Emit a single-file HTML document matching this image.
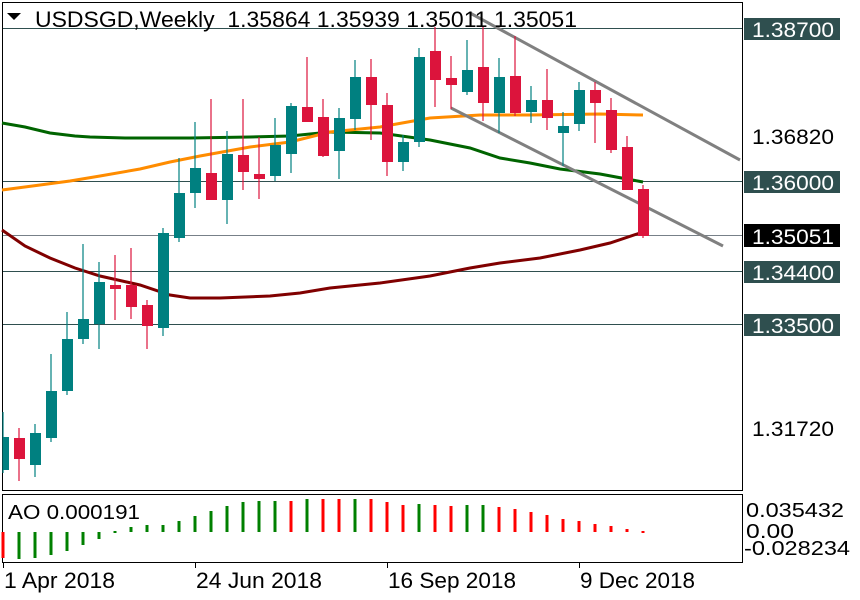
<!DOCTYPE html>
<html><head><meta charset="utf-8"><style>
html,body{margin:0;padding:0;background:#fff;}
svg{display:block;font-family:"Liberation Sans",sans-serif;}
</style></head><body>
<svg width="860" height="600" viewBox="0 0 860 600" xmlns="http://www.w3.org/2000/svg">
<rect width="860" height="600" fill="#fff"/>
<rect x="2.5" y="2.5" width="740" height="488" fill="none" stroke="#000" stroke-width="1"/>
<rect x="2.5" y="494.5" width="740" height="68" fill="none" stroke="#000" stroke-width="1"/>
<g stroke-width="1">
<line x1="3" y1="28.5" x2="742" y2="28.5" stroke="#2f4f4f"/>
<line x1="3" y1="181.5" x2="742" y2="181.5" stroke="#2f4f4f"/>
<line x1="3" y1="235.5" x2="742" y2="235.5" stroke="#778088"/>
<line x1="3" y1="271.5" x2="742" y2="271.5" stroke="#2f4f4f"/>
<line x1="3" y1="324.5" x2="742" y2="324.5" stroke="#2f4f4f"/>
</g>
<polyline fill="none" stroke="#006400" stroke-width="3" points="2,123 25,127 50,133 75,136 90,137 125,138 190,138 250,137 290,136 330,132 380,133 430,140 470,148 500,158 530,163 560,169 600,174 643,182"/>
<polyline fill="none" stroke="#ff8c00" stroke-width="3" points="2,190 40,185 70,181 100,176 140,169 170,162 200,156 250,147 290,142 330,132 380,127 430,118 480,115 530,115 600,114 643,115"/>
<polyline fill="none" stroke="#800000" stroke-width="3" points="2,230 25,246 50,258 75,268 100,276 140,285 170,295 190,298 220,298 270,296 300,293 330,288 380,283 430,276 470,268 500,263 540,258 580,250 610,243 643,232"/>
<line x1="470" y1="13" x2="740" y2="160" stroke="#808080" stroke-width="3"/>
<line x1="451" y1="108" x2="723" y2="246" stroke="#808080" stroke-width="3"/>
<g stroke-width="1.2">
<line x1="3" y1="412" x2="3" y2="473" stroke="#008080"/>
<line x1="19" y1="428" x2="19" y2="481" stroke="#dc143c"/>
<line x1="35" y1="424" x2="35" y2="477" stroke="#008080"/>
<line x1="51" y1="354" x2="51" y2="442" stroke="#008080"/>
<line x1="67" y1="312" x2="67" y2="395" stroke="#008080"/>
<line x1="83" y1="244" x2="83" y2="344" stroke="#008080"/>
<line x1="99" y1="262" x2="99" y2="349" stroke="#008080"/>
<line x1="115" y1="255" x2="115" y2="320" stroke="#dc143c"/>
<line x1="131" y1="248" x2="131" y2="319" stroke="#dc143c"/>
<line x1="147" y1="300" x2="147" y2="349" stroke="#dc143c"/>
<line x1="163" y1="228" x2="163" y2="336" stroke="#008080"/>
<line x1="179" y1="158" x2="179" y2="242" stroke="#008080"/>
<line x1="195" y1="122" x2="195" y2="208" stroke="#008080"/>
<line x1="211" y1="99" x2="211" y2="200" stroke="#dc143c"/>
<line x1="227" y1="131" x2="227" y2="224" stroke="#008080"/>
<line x1="243" y1="99" x2="243" y2="190" stroke="#dc143c"/>
<line x1="259" y1="137" x2="259" y2="199" stroke="#dc143c"/>
<line x1="275" y1="118" x2="275" y2="181" stroke="#008080"/>
<line x1="291" y1="103" x2="291" y2="173" stroke="#008080"/>
<line x1="307" y1="57" x2="307" y2="122" stroke="#dc143c"/>
<line x1="323" y1="99" x2="323" y2="157" stroke="#dc143c"/>
<line x1="339" y1="108" x2="339" y2="179" stroke="#008080"/>
<line x1="355" y1="60" x2="355" y2="130" stroke="#008080"/>
<line x1="371" y1="59" x2="371" y2="140" stroke="#dc143c"/>
<line x1="387" y1="93" x2="387" y2="176" stroke="#dc143c"/>
<line x1="403" y1="135" x2="403" y2="171" stroke="#008080"/>
<line x1="419" y1="48" x2="419" y2="147" stroke="#008080"/>
<line x1="435" y1="27" x2="435" y2="107" stroke="#dc143c"/>
<line x1="451" y1="56" x2="451" y2="109" stroke="#dc143c"/>
<line x1="467" y1="40" x2="467" y2="95" stroke="#008080"/>
<line x1="483" y1="27" x2="483" y2="121" stroke="#dc143c"/>
<line x1="499" y1="58" x2="499" y2="133" stroke="#008080"/>
<line x1="515" y1="36" x2="515" y2="116" stroke="#dc143c"/>
<line x1="531" y1="86" x2="531" y2="123" stroke="#008080"/>
<line x1="547" y1="69" x2="547" y2="130" stroke="#dc143c"/>
<line x1="563" y1="112" x2="563" y2="166" stroke="#008080"/>
<line x1="579" y1="82" x2="579" y2="131" stroke="#008080"/>
<line x1="595" y1="82" x2="595" y2="143" stroke="#dc143c"/>
<line x1="611" y1="98" x2="611" y2="153" stroke="#dc143c"/>
<line x1="627" y1="136" x2="627" y2="190" stroke="#dc143c"/>
<line x1="643" y1="185" x2="643" y2="238" stroke="#dc143c"/>
</g>
<g>
<rect x="3" y="437" width="6" height="33" fill="#008080"/>
<rect x="14" y="438" width="11" height="21" fill="#dc143c"/>
<rect x="30" y="433" width="11" height="32" fill="#008080"/>
<rect x="46" y="391" width="11" height="47" fill="#008080"/>
<rect x="62" y="339" width="11" height="52" fill="#008080"/>
<rect x="78" y="319" width="11" height="20" fill="#008080"/>
<rect x="94" y="282" width="11" height="42" fill="#008080"/>
<rect x="110" y="285" width="11" height="4" fill="#dc143c"/>
<rect x="126" y="285" width="11" height="22" fill="#dc143c"/>
<rect x="142" y="305" width="11" height="21" fill="#dc143c"/>
<rect x="158" y="233" width="11" height="95" fill="#008080"/>
<rect x="174" y="193" width="11" height="45" fill="#008080"/>
<rect x="190" y="168" width="11" height="25" fill="#008080"/>
<rect x="206" y="173" width="11" height="27" fill="#dc143c"/>
<rect x="222" y="154" width="11" height="46" fill="#008080"/>
<rect x="238" y="155" width="11" height="17" fill="#dc143c"/>
<rect x="254" y="174" width="11" height="5" fill="#dc143c"/>
<rect x="270" y="145" width="11" height="31" fill="#008080"/>
<rect x="286" y="106" width="11" height="48" fill="#008080"/>
<rect x="302" y="107" width="11" height="15" fill="#dc143c"/>
<rect x="318" y="117" width="11" height="39" fill="#dc143c"/>
<rect x="334" y="118" width="11" height="33" fill="#008080"/>
<rect x="350" y="77" width="11" height="42" fill="#008080"/>
<rect x="366" y="77" width="11" height="28" fill="#dc143c"/>
<rect x="382" y="105" width="11" height="57" fill="#dc143c"/>
<rect x="398" y="142" width="11" height="20" fill="#008080"/>
<rect x="414" y="57" width="11" height="85" fill="#008080"/>
<rect x="430" y="51" width="11" height="29" fill="#dc143c"/>
<rect x="446" y="78" width="11" height="7" fill="#dc143c"/>
<rect x="462" y="70" width="11" height="22" fill="#008080"/>
<rect x="478" y="67" width="11" height="36" fill="#dc143c"/>
<rect x="494" y="77" width="11" height="36" fill="#008080"/>
<rect x="510" y="76" width="11" height="37" fill="#dc143c"/>
<rect x="526" y="100" width="11" height="12" fill="#008080"/>
<rect x="542" y="100" width="11" height="18" fill="#dc143c"/>
<rect x="558" y="126" width="11" height="7" fill="#008080"/>
<rect x="574" y="90" width="11" height="34" fill="#008080"/>
<rect x="590" y="90" width="11" height="13" fill="#dc143c"/>
<rect x="606" y="110" width="11" height="40" fill="#dc143c"/>
<rect x="622" y="147" width="11" height="43" fill="#dc143c"/>
<rect x="638" y="189" width="11" height="47" fill="#dc143c"/>
</g>
<polygon points="7,13 21,13 14,20" fill="#000"/>
<text x="35" y="27" font-size="22" fill="#000" textLength="542" lengthAdjust="spacingAndGlyphs" xml:space="preserve">USDSGD,Weekly  1.35864 1.35939 1.35011 1.35051</text>
<g font-size="21">
<rect x="744" y="18" width="96" height="22" fill="#2f4f4f"/>
<text x="752" y="37" fill="#fff" textLength="82" lengthAdjust="spacingAndGlyphs">1.38700</text>
<text x="752" y="144" fill="#000" textLength="82" lengthAdjust="spacingAndGlyphs">1.36820</text>
<rect x="744" y="171" width="96" height="22" fill="#2f4f4f"/>
<text x="752" y="190" fill="#fff" textLength="82" lengthAdjust="spacingAndGlyphs">1.36000</text>
<rect x="744" y="224" width="96" height="23" fill="#000"/>
<text x="752" y="244" fill="#fff" textLength="82" lengthAdjust="spacingAndGlyphs">1.35051</text>
<rect x="744" y="261" width="96" height="22" fill="#2f4f4f"/>
<text x="752" y="280" fill="#fff" textLength="82" lengthAdjust="spacingAndGlyphs">1.34400</text>
<rect x="744" y="314" width="96" height="22" fill="#2f4f4f"/>
<text x="752" y="333" fill="#fff" textLength="82" lengthAdjust="spacingAndGlyphs">1.33500</text>
<text x="752" y="436" fill="#000" textLength="82" lengthAdjust="spacingAndGlyphs">1.31720</text>
</g>
<text x="8" y="519" font-size="20" fill="#000" textLength="132" lengthAdjust="spacingAndGlyphs">AO 0.000191</text>
<g font-size="20" fill="#000">
<text x="746" y="517" textLength="98" lengthAdjust="spacingAndGlyphs">0.035432</text>
<text x="746" y="538" textLength="48" lengthAdjust="spacingAndGlyphs">0.00</text>
<text x="744" y="555" textLength="106" lengthAdjust="spacingAndGlyphs">-0.028234</text>
</g>
<g stroke-width="3">
<line x1="3" y1="532" x2="3" y2="558" stroke="#ff0000"/>
<line x1="19" y1="532" x2="19" y2="559" stroke="#008000"/>
<line x1="35" y1="532" x2="35" y2="558" stroke="#008000"/>
<line x1="51" y1="532" x2="51" y2="555" stroke="#008000"/>
<line x1="67" y1="532" x2="67" y2="551" stroke="#008000"/>
<line x1="83" y1="532" x2="83" y2="545" stroke="#008000"/>
<line x1="99" y1="532" x2="99" y2="539" stroke="#008000"/>
<line x1="115" y1="531" x2="115" y2="533" stroke="#008000"/>
<line x1="131" y1="527" x2="131" y2="532" stroke="#008000"/>
<line x1="147" y1="525" x2="147" y2="532" stroke="#008000"/>
<line x1="163" y1="525" x2="163" y2="532" stroke="#008000"/>
<line x1="179" y1="521" x2="179" y2="532" stroke="#008000"/>
<line x1="195" y1="516" x2="195" y2="532" stroke="#008000"/>
<line x1="211" y1="511" x2="211" y2="532" stroke="#008000"/>
<line x1="227" y1="506" x2="227" y2="532" stroke="#008000"/>
<line x1="243" y1="502" x2="243" y2="532" stroke="#008000"/>
<line x1="259" y1="501" x2="259" y2="532" stroke="#008000"/>
<line x1="275" y1="501" x2="275" y2="532" stroke="#008000"/>
<line x1="291" y1="501" x2="291" y2="532" stroke="#ff0000"/>
<line x1="307" y1="499" x2="307" y2="532" stroke="#008000"/>
<line x1="323" y1="499" x2="323" y2="532" stroke="#ff0000"/>
<line x1="339" y1="499" x2="339" y2="532" stroke="#ff0000"/>
<line x1="355" y1="499" x2="355" y2="532" stroke="#008000"/>
<line x1="371" y1="499" x2="371" y2="532" stroke="#ff0000"/>
<line x1="387" y1="502" x2="387" y2="532" stroke="#ff0000"/>
<line x1="403" y1="505" x2="403" y2="532" stroke="#ff0000"/>
<line x1="419" y1="504" x2="419" y2="532" stroke="#008000"/>
<line x1="435" y1="505" x2="435" y2="532" stroke="#ff0000"/>
<line x1="451" y1="506" x2="451" y2="532" stroke="#ff0000"/>
<line x1="467" y1="505" x2="467" y2="532" stroke="#008000"/>
<line x1="483" y1="505" x2="483" y2="532" stroke="#008000"/>
<line x1="499" y1="507" x2="499" y2="532" stroke="#ff0000"/>
<line x1="515" y1="509" x2="515" y2="532" stroke="#ff0000"/>
<line x1="531" y1="512" x2="531" y2="532" stroke="#ff0000"/>
<line x1="547" y1="515" x2="547" y2="532" stroke="#ff0000"/>
<line x1="563" y1="519" x2="563" y2="532" stroke="#ff0000"/>
<line x1="579" y1="521" x2="579" y2="532" stroke="#ff0000"/>
<line x1="595" y1="524" x2="595" y2="532" stroke="#ff0000"/>
<line x1="611" y1="526" x2="611" y2="532" stroke="#ff0000"/>
<line x1="627" y1="529" x2="627" y2="532" stroke="#ff0000"/>
<line x1="643" y1="531" x2="643" y2="533" stroke="#ff0000"/>
</g>
<g stroke="#000" stroke-width="1">
<line x1="3.5" y1="563" x2="3.5" y2="568"/>
<line x1="195.5" y1="563" x2="195.5" y2="568"/>
<line x1="387.5" y1="563" x2="387.5" y2="568"/>
<line x1="579.5" y1="563" x2="579.5" y2="568"/>
</g>
<g font-size="22" fill="#000">
<text x="4" y="588" textLength="111" lengthAdjust="spacingAndGlyphs">1 Apr 2018</text>
<text x="196" y="588" textLength="126" lengthAdjust="spacingAndGlyphs">24 Jun 2018</text>
<text x="388" y="588" textLength="128" lengthAdjust="spacingAndGlyphs">16 Sep 2018</text>
<text x="580" y="588" textLength="115" lengthAdjust="spacingAndGlyphs">9 Dec 2018</text>
</g>
</svg>
</body></html>
